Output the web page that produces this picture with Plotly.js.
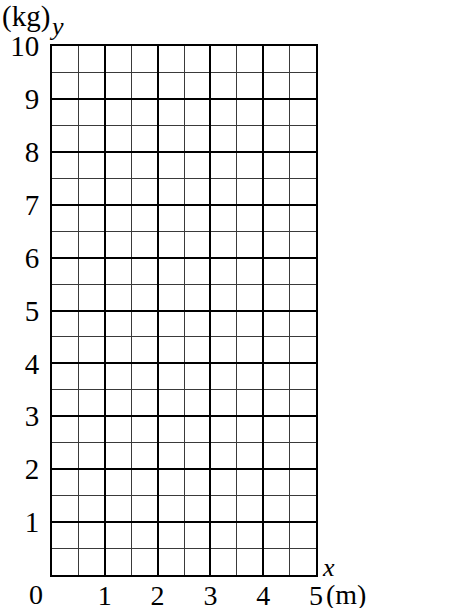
<!DOCTYPE html>
<html>
<head>
<meta charset="utf-8">
<script src="https://cdn.plot.ly/plotly-3.0.1.min.js"></script>
<style>html,body{margin:0;padding:0;background:#fff;}#chart{width:462px;height:608px;}</style>
</head>
<body>
<div id="chart"></div>
<script>
const xRange = [0, 5];
const yRange = [0, 10];
const xTickVals = [1, 2, 3, 4, 5];
const xTickText = ["1", "2", "3", "4", "5"];
const yTickVals = [1, 2, 3, 4, 5, 6, 7, 8, 9, 10];
const yTickText = ["1", "2", "3", "4", "5", "6", "7", "8", "9", "10"];
const minorStep = 0.5;
const originLabel = "0";
const xUnit = "(m)";
const yUnit = "(kg)";
const xName = "x";
const yName = "y";

const serif = "Liberation Serif, DejaVu Serif, serif";
const tickFont = {family: serif, size: 29, color: "#000"};
const bottomFont = {family: serif, size: 28, color: "#000"};
const italicFont = {family: serif, size: 26, color: "#000", style: "italic"};

const axisCommon = {
  showline: true, mirror: true, linecolor: "#000", linewidth: 2,
  showgrid: true, gridcolor: "#000", gridwidth: 2,
  zeroline: false, ticks: "", fixedrange: true,
  minor: {tickmode: "linear", tick0: 0, dtick: minorStep, showgrid: true, gridcolor: "#3a3a3a", gridwidth: 1, ticks: ""}
};

const layout = {
  width: 462, height: 608,
  margin: {l: 52, r: 146, t: 46, b: 33, pad: 0},
  paper_bgcolor: "#fff", plot_bgcolor: "#fff",
  showlegend: false,
  xaxis: Object.assign({}, axisCommon, {range: xRange, tickmode: "array", tickvals: xTickVals, ticktext: xTickText, tickfont: bottomFont, ticklabelstandoff: -6}),
  yaxis: Object.assign({}, axisCommon, {range: yRange, tickmode: "array", tickvals: yTickVals, ticktext: yTickText, tickfont: tickFont, ticklabelstandoff: 5}),
  annotations: [
    {xref: "paper", yref: "paper", x: 0, y: 0, xshift: -16, yshift: -19, text: originLabel, showarrow: false, font: bottomFont, xanchor: "center", yanchor: "middle"},
    {xref: "paper", yref: "paper", x: 1, y: 0, xshift: 8, yshift: -19, text: xUnit, showarrow: false, font: bottomFont, xanchor: "left", yanchor: "middle"},
    {xref: "paper", yref: "paper", x: 1, y: 0, xshift: 4, yshift: 8, text: xName, showarrow: false, font: italicFont, xanchor: "left", yanchor: "middle"},
    {xref: "paper", yref: "paper", x: 0, y: 1, xshift: -52, yshift: 30, text: yUnit, showarrow: false, font: tickFont, xanchor: "left", yanchor: "middle"},
    {xref: "paper", yref: "paper", x: 0, y: 1, xshift: 4, yshift: 20, text: yName, showarrow: false, font: italicFont, xanchor: "center", yanchor: "middle"}
  ]
};

Plotly.newPlot("chart", [], layout, {displayModeBar: false, staticPlot: true});
</script>
</body>
</html>
